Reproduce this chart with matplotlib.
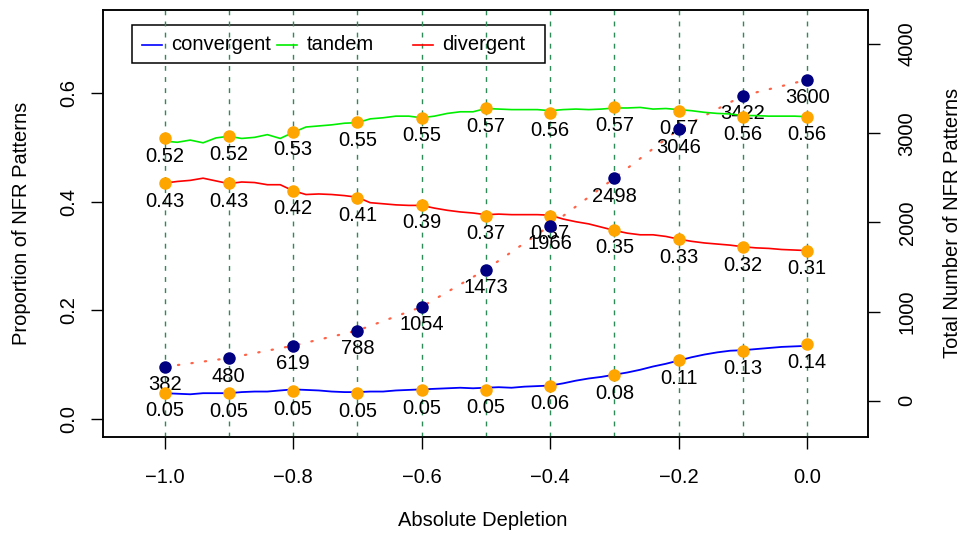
import numpy as np
import matplotlib.pyplot as plt
from matplotlib.lines import Line2D
from matplotlib.patches import Rectangle

plt.rcParams['font.family'] = ['Liberation Sans', 'DejaVu Sans']
plt.rcParams['axes.unicode_minus'] = True

# values
depletion = [-1.0, -0.9, -0.8, -0.7, -0.6, -0.5, -0.4, -0.3, -0.2, -0.1, 0.0]
counts = [382, 480, 619, 788, 1054, 1473, 1966, 2498, 3046, 3422, 3600]
conv_pts = [0.049, 0.048, 0.052, 0.048, 0.053, 0.054, 0.062, 0.081, 0.109, 0.126, 0.138]
tand_pts = [0.516, 0.520, 0.528, 0.546, 0.554, 0.572, 0.563, 0.573, 0.567, 0.556, 0.556]
div_pts = [0.434, 0.434, 0.420, 0.407, 0.394, 0.374, 0.374, 0.348, 0.331, 0.316, 0.310]

# finer curves, sampled every 0.02
fine_x = np.linspace(-1.0, 0.0, 51)
conv_fine = [0.048, 0.047, 0.046, 0.048, 0.048, 0.048, 0.050, 0.051, 0.051, 0.053,
             0.055, 0.054, 0.053, 0.051, 0.050, 0.050, 0.051, 0.051, 0.053, 0.054,
             0.055, 0.056, 0.057, 0.058, 0.057, 0.058, 0.059, 0.058, 0.060, 0.061,
             0.062, 0.066, 0.071, 0.075, 0.078, 0.082, 0.086, 0.091, 0.097, 0.102,
             0.108, 0.114, 0.119, 0.123, 0.126, 0.127, 0.129, 0.131, 0.133, 0.134,
             0.135]
tand_fine = [0.511, 0.509, 0.513, 0.508, 0.517, 0.520, 0.516, 0.518, 0.523, 0.516,
             0.527, 0.537, 0.539, 0.541, 0.544, 0.545, 0.552, 0.554, 0.557, 0.557,
             0.554, 0.557, 0.562, 0.565, 0.565, 0.571, 0.570, 0.569, 0.569, 0.569,
             0.567, 0.569, 0.570, 0.569, 0.570, 0.572, 0.572, 0.573, 0.570, 0.571,
             0.569, 0.567, 0.564, 0.562, 0.561, 0.558, 0.558, 0.557, 0.557, 0.557,
             0.556]
div_fine = [0.434, 0.437, 0.439, 0.443, 0.438, 0.433, 0.436, 0.435, 0.431, 0.431,
            0.420, 0.413, 0.414, 0.413, 0.411, 0.408, 0.398, 0.396, 0.394, 0.393,
            0.393, 0.388, 0.384, 0.381, 0.379, 0.376, 0.377, 0.376, 0.376, 0.376,
            0.375, 0.368, 0.363, 0.359, 0.353, 0.347, 0.342, 0.339, 0.339, 0.336,
            0.331, 0.327, 0.324, 0.322, 0.320, 0.317, 0.315, 0.314, 0.312, 0.311,
            0.310]

legend_names = ['convergent', 'tandem', 'divergent']
legend_cols = ['blue', '#00ee00', 'red']

FS = 14.5

fig = plt.figure(figsize=(9.66, 5.35), dpi=100)
ax = fig.add_axes([0.1071, 0.1841, 0.7911, 0.7972])
ax2 = ax.twinx()
ax.set_xlim(-1.095, 0.094)
ax.set_ylim(-0.0316, 0.752)
ax2.set_ylim(-399, 4382)
ax.set_zorder(ax2.get_zorder() + 1)
ax.patch.set_visible(False)

for x in depletion:
    ax.axvline(x, color='#2E8B57', lw=1.0, ls=(0, (3.5, 4.5)), zorder=1)

# total counts (right scale), drawn in the same layer stack
ax.plot(depletion, counts, transform=ax2.transData, color='#ff6347',
        lw=1.6, ls=(0, (0.6, 5.5)), dash_capstyle='round', zorder=2)
for x, c in zip(depletion, counts):
    ax.annotate(str(c), (x, c), xycoords=ax2.transData, xytext=(0, -13),
                textcoords='offset points', ha='center', va='center',
                fontsize=FS, zorder=3)

ax.plot(fine_x, conv_fine, color='blue', lw=1.3, zorder=4)
ax.plot(fine_x, tand_fine, color='#00ee00', lw=1.2, zorder=4)
ax.plot(fine_x, div_fine, color='red', lw=1.2, zorder=4)

for pts in (conv_pts, tand_pts, div_pts):
    ax.plot(depletion, pts, 'o', color='orange', ms=9, mew=0, zorder=5)
    for x, v in zip(depletion, pts):
        ax.annotate(f'{v:.2f}', (x, v), xytext=(0, -13), textcoords='offset points',
                    ha='center', va='center', fontsize=FS, zorder=6)

ax.plot(depletion, counts, 'o', transform=ax2.transData, color='#000080',
        ms=9, mew=0, zorder=7)

ax.set_xticks([-1.0, -0.8, -0.6, -0.4, -0.2, 0.0])
ax.set_yticks([0.0, 0.2, 0.4, 0.6])
ax2.set_yticks([0, 1000, 2000, 3000, 4000])
for a in (ax, ax2):
    a.tick_params(length=8.5, width=1, labelsize=FS)
    for s in a.spines.values():
        s.set_linewidth(1.1)
ax.tick_params(axis='x', pad=14.5)
ax.tick_params(axis='y', pad=9.5)
ax2.tick_params(axis='y', pad=13)
for lbl in ax.get_yticklabels() + ax2.get_yticklabels():
    lbl.set_rotation(90)
    lbl.set_va('center')

fig.text(0.5, 1 - 521 / 535, 'Absolute Depletion', ha='center', va='center', fontsize=FS)
fig.text(22 / 966, 0.5827, 'Proportion of NFR Patterns', rotation=90,
         ha='center', va='center', fontsize=FS)
fig.text(952 / 966, 0.5827, 'Total Number of NFR Patterns', rotation=90,
         ha='center', va='center', fontsize=FS)

# legend box in the R style, equal column widths
fig.add_artist(Rectangle((132.3 / 966, 1 - 62.7 / 535), 412.7 / 966, 37.7 / 535,
                         transform=fig.transFigure, fill=False, lw=1.1, ec='black'))
for i, (name, col) in enumerate(zip(legend_names, legend_cols)):
    x0 = (141.7 + 135.6 * i) / 966
    yl = 1 - 45 / 535
    fig.add_artist(Line2D([x0, x0 + 20 / 966], [yl, yl], color=col, lw=1.2,
                          transform=fig.transFigure))
    fig.text(x0 + 29.5 / 966, yl, name, ha='left', va='center', fontsize=FS)

fig.savefig('out.png', dpi=100)
